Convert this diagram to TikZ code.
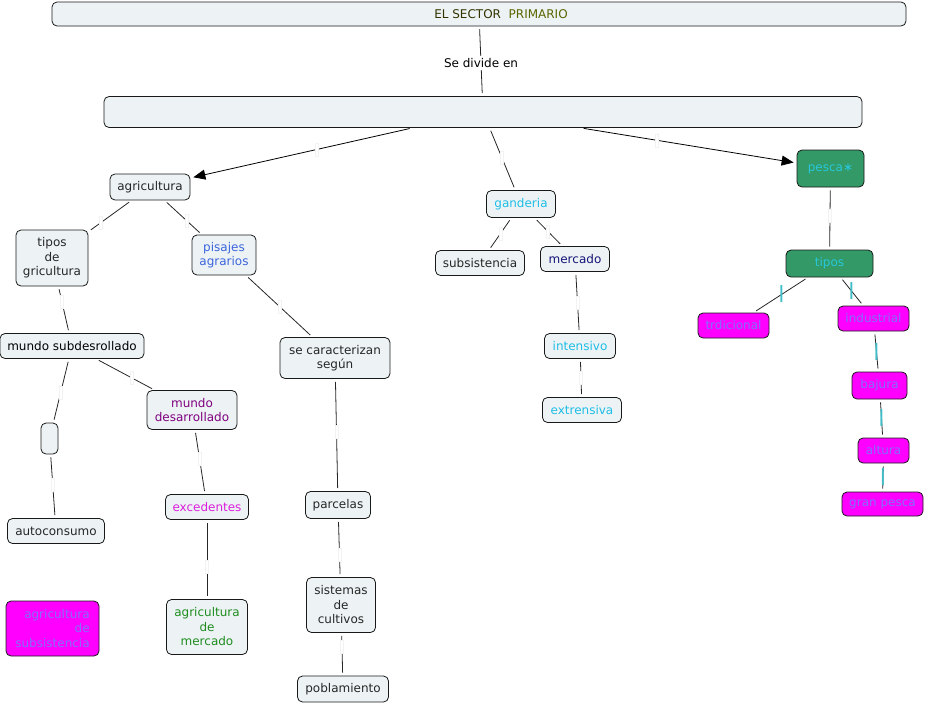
\documentclass[tikz,border=0pt]{standalone}
\usepackage{fontspec}
\setmainfont{DejaVu Sans}
\usetikzlibrary{arrows.meta,calc}
\definecolor{cfill}{RGB}{237,243,245}
\definecolor{sectc}{RGB}{51,51,0}
\definecolor{primc}{RGB}{90,100,0}
\definecolor{bluet}{RGB}{60,100,220}
\definecolor{cyant}{RGB}{30,190,230}
\definecolor{navyt}{RGB}{20,20,120}
\definecolor{purplet}{RGB}{128,0,128}
\definecolor{magt}{RGB}{220,30,220}
\definecolor{greent}{RGB}{30,140,30}
\definecolor{magfill}{RGB}{255,0,255}
\definecolor{violt}{RGB}{128,112,255}
\definecolor{grfill}{RGB}{51,153,102}
\definecolor{grtext}{RGB}{40,200,220}
\definecolor{tealbar}{RGB}{64,190,200}
\begin{document}
\begin{tikzpicture}[x=1pt,y=-1pt,
  font=\fontsize{12}{14.5}\selectfont,
  box/.style={draw=black!90, line width=0.8pt, rounded corners=5pt, fill=cfill,
    text=black!85, inner sep=2pt, align=center},
  magbox/.style={box, fill=magfill, text=violt},
  grbox/.style={box, fill=grfill, text=grtext},
  conn/.style={draw=black!85, line width=0.8pt, shorten <=3pt, shorten >=3pt},
  arr/.style={conn, draw=black, -{Triangle[length=12pt,width=10pt]}},
  gap/.style={fill=white, inner sep=0pt, minimum width=3pt, minimum height=13pt, draw=black!5},
  bar/.style={text=tealbar, inner sep=0pt, font=\fontsize{17}{17}\selectfont\bfseries},
  lbl/.style={fill=white, inner sep=2pt, text=black}]
\useasboundingbox (0,0) rectangle (927,705);

% nodes
\node[box, minimum width=854pt, minimum height=24pt] (title) at (479,14)
  {\hspace*{44pt}\textcolor{sectc}{EL SECTOR}\ \ \textcolor{primc}{PRIMARIO}};
\node[box, minimum width=758pt, minimum height=31pt] (big) at (483,112) {};

\node[box, minimum width=80pt, minimum height=26pt] (agri) at (150,187) {agricultura};
\node[box, minimum width=72pt, minimum height=56pt] (tiposag) at (52,258) {tipos\\de\\gricultura};
\node[box, minimum width=64pt, minimum height=40pt, text=bluet] (pais) at (224,255) {pisajes\\agrarios};
\node[box, minimum width=144pt, minimum height=25pt, text=black] (subd) at (72,346) {mundo subdesrollado};
\node[box, minimum width=110pt, minimum height=41pt] (secar) at (335,358) {se caracterizan\\según};
\node[box, minimum width=17pt, minimum height=31pt, inner sep=0pt] (blank) at (49.5,438.5) {};
\node[box, minimum width=97pt, minimum height=25pt] (auto) at (56,531) {autoconsumo};
\node[box, minimum width=90pt, minimum height=39pt, text=purplet] (desa) at (192,410) {mundo\\desarrollado};
\node[box, minimum width=83pt, minimum height=25pt, text=magt] (exce) at (207,507) {excedentes};
\node[box, minimum width=81pt, minimum height=55pt, text=greent] (agmer) at (207,627) {agricultura\\de\\mercado};
\node[magbox, minimum width=93pt, minimum height=55pt, align=right] (agsub) at (52.5,628.5) {agricultura\\de\\subsistencia};
\node[box, minimum width=65pt, minimum height=27pt] (parc) at (338,505) {parcelas};
\node[box, minimum width=69pt, minimum height=55pt] (sist) at (341,605) {sistemas\\de\\cultivos};
\node[box, minimum width=91pt, minimum height=26pt] (pobl) at (343,689) {poblamiento};

\node[box, minimum width=69pt, minimum height=27pt, text=cyant] (gand) at (521,204) {ganderia};
\node[box, minimum width=89pt, minimum height=25pt] (subs) at (480,263) {subsistencia};
\node[box, minimum width=69pt, minimum height=25pt, text=navyt] (merc) at (575,259) {mercado};
\node[box, minimum width=71pt, minimum height=25pt, text=cyant] (inte) at (580,346) {intensivo};
\node[box, minimum width=79pt, minimum height=25pt, text=cyant] (extr) at (582,410) {extrensiva};

\node[grbox, minimum width=67pt, minimum height=37pt] (pesca) at (830.5,168.5) {\raisebox{-4pt}{pesca∗}};
\node[grbox, minimum width=87pt, minimum height=27pt] (tipospe) at (829.5,263.5) {tipos};
\node[magbox, minimum width=71pt, minimum height=25pt] (trad) at (733.5,325.5) {trdicional};
\node[magbox, minimum width=71pt, minimum height=25pt] (indu) at (873.5,318.5) {industrial};
\node[magbox, minimum width=55pt, minimum height=27pt] (baju) at (879.5,385.5) {bajura};
\node[magbox, minimum width=51pt, minimum height=25pt] (altu) at (883.5,450.5) {altura};
\node[magbox, minimum width=81pt, minimum height=24pt] (gran) at (882.5,504) {gran pesca};

% connectors
\draw[conn] (title) -- (big);
\node[lbl] at ($(title)!0.5!(big)$) {Se divide en};

\draw[arr] (big) -- (agri);
\node[gap] at ($(big)!0.5!(agri)$) {};
\draw[conn] (big) -- (gand);
\node[gap] at ($(big)!0.5!(gand)$) {};
\draw[arr] (big) -- (pesca);
\node[gap] at ($(big)!0.5!(pesca)$) {};

\foreach \a/\b in {agri/tiposag, agri/pais, tiposag/subd, pais/secar, subd/blank,
  blank/auto, subd/desa, desa/exce, exce/agmer, secar/parc, parc/sist, sist/pobl,
  gand/subs, gand/merc, merc/inte, inte/extr, pesca/tipospe}{
  \draw[conn] (\a) -- (\b);
  \node[gap] at ($(\a)!0.5!(\b)$) {};
}

\foreach \a/\b in {tipospe/trad, tipospe/indu, indu/baju, baju/altu, altu/gran}{
  \draw[conn] (\a) -- (\b);
  \node[bar] at ($(\a)!0.5!(\b)$) {|};
}
\end{tikzpicture}
\end{document}
